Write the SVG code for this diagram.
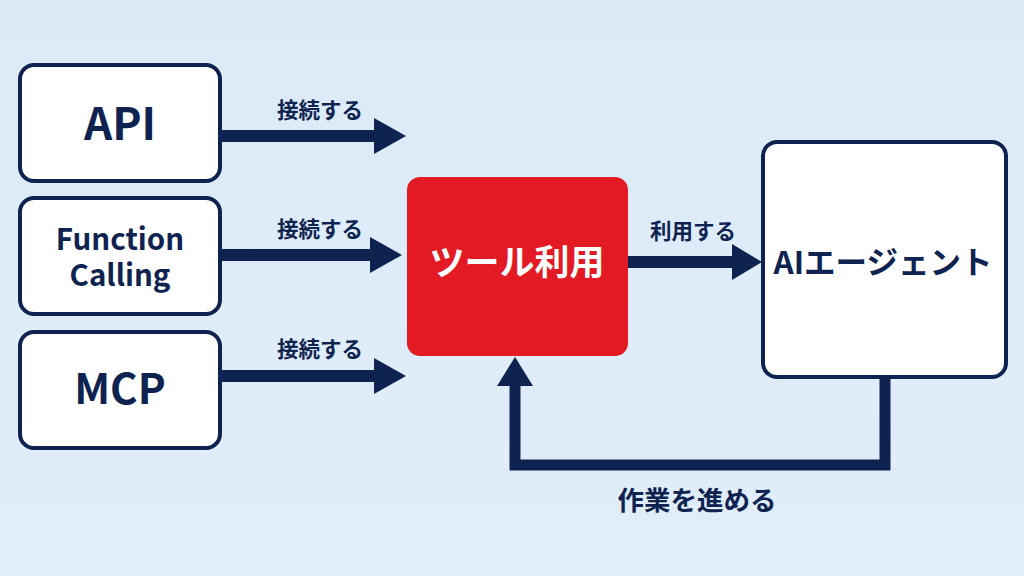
<svg xmlns="http://www.w3.org/2000/svg" width="1024" height="576" viewBox="0 0 1024 576">
<defs>
<style>
.box{fill:#FFFFFF;stroke:#0E2350;stroke-width:4}
.t{font-family:"Noto Sans CJK JP","Noto Sans",sans-serif;font-weight:700;fill:#0E2350;text-anchor:middle}
.lbl{font-family:"Noto Sans CJK JP","Noto Sans",sans-serif;font-weight:700;fill:#0E2350;text-anchor:middle;font-size:21.5px}
.ln{stroke:#0E2350;stroke-width:12;fill:none}
.hd{fill:#0E2350}
</style>
<linearGradient id="bg" x1="0" y1="0" x2="0" y2="1">
<stop offset="0" stop-color="#DCEAF8"/>
<stop offset="1" stop-color="#E1EDF9"/>
</linearGradient>
</defs>
<rect width="1024" height="576" fill="url(#bg)"/>

<g id="api">
<rect class="box" x="20" y="65" width="200" height="116" rx="14"/>
<text class="t" x="120" y="140" font-size="44">API</text>
</g>
<g id="function-calling">
<rect class="box" x="20" y="198" width="200" height="116" rx="14"/>
<text class="t" x="120" y="250" font-size="29.5">Function</text>
<text class="t" x="120" y="286" font-size="29.5">Calling</text>
</g>
<g id="mcp">
<rect class="box" x="20" y="332" width="200" height="116" rx="14"/>
<text class="t" x="120" y="404" font-size="42">MCP</text>
</g>
<g id="tool">
<rect x="407" y="177" width="221" height="179" rx="13" fill="#E31A24"/>
<text class="t" x="517" y="275" font-size="35" style="fill:#FFFFFF">ツール利用</text>
</g>
<g id="agent">
<rect class="box" x="763" y="142" width="243" height="235" rx="14"/>
<text class="t" x="883" y="274" font-size="31.5">AIエージェント</text>
</g>

<g id="connectors">
<line class="ln" x1="222" y1="136" x2="376" y2="136"/>
<polygon class="hd" points="374,118 406,136 374,154"/>
<text class="lbl" x="320" y="118">接続する</text>

<line class="ln" x1="222" y1="255" x2="372" y2="255"/>
<polygon class="hd" points="370,237 402,255 370,273"/>
<text class="lbl" x="320" y="237">接続する</text>

<line class="ln" x1="222" y1="376" x2="376" y2="376"/>
<polygon class="hd" points="374,358 406,376 374,394"/>
<text class="lbl" x="320" y="357">接続する</text>

<line class="ln" x1="628" y1="262" x2="735" y2="262"/>
<polygon class="hd" points="732,244 762,262 732,280"/>
<text class="lbl" x="693" y="239">利用する</text>

<polyline class="ln" points="885,379 885,465 515,465 515,383" style="stroke-width:11"/>
<polygon class="hd" points="497,386 515,357 533,386"/>
<text class="lbl" x="697" y="510" style="font-size:26.5px">作業を進める</text>
</g>
</svg>
